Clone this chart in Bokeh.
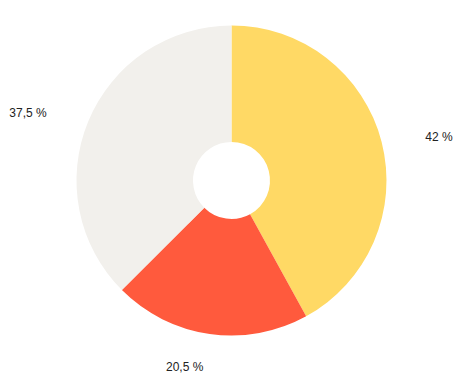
import math
from bokeh.plotting import figure
from bokeh.models import Range1d, ColumnDataSource
from bokeh.core.properties import value
from bokeh.embed import file_html
from bokeh.resources import INLINE

categories = ["A", "B", "C"]
shares = [42.0, 20.5, 37.5]
labels = ["42 %", "20,5 %", "37,5 %"]
colors = ["#FFD965", "#FF5A3D", "#F2F0EC"]

W, H = 460, 383
cx_px, cy_px = 231, 180  # pie center in canvas pixels
p = figure(width=W, height=H, output_backend="svg", toolbar_location=None,
           x_range=Range1d(-cx_px, W - cx_px), y_range=Range1d(-(H - cy_px), cy_px),
           min_border=0)
p.axis.visible = False
p.grid.visible = False
p.outline_line_color = None
p.background_fill_color = "white"
p.border_fill_color = "white"

total = sum(shares)
starts, ends, lx, ly, align = [], [], [], [], []
cum = 0.0
R_out, R_in = 155, 38.5
RX_lab, RY_lab = 200, 185
for s in shares:
    a0 = math.pi / 2 - 2 * math.pi * cum / total
    a1 = math.pi / 2 - 2 * math.pi * (cum + s) / total
    starts.append(a0)
    ends.append(a1)
    mid = (a0 + a1) / 2
    lx.append(RX_lab * math.cos(mid))
    ly.append(RY_lab * math.sin(mid))
    align.append("left" if math.cos(mid) > 0 else "right")
    cum += s

src = ColumnDataSource(dict(cat=categories, start=starts, end=ends, color=colors))
p.annular_wedge(x=0, y=0, inner_radius=R_in, outer_radius=R_out,
                start_angle="start", end_angle="end", direction="clock",
                fill_color="color", line_color=None, source=src)

lsrc = ColumnDataSource(dict(x=lx, y=ly, text=labels, align=align))
p.text(x="x", y="y", text="text", source=lsrc, text_align="align",
       text_baseline="middle", text_font=value("Liberation Sans"),
       text_font_size="12px", text_color="#222222", y_offset=3)

open("out.html", "w").write(file_html(p, INLINE))
